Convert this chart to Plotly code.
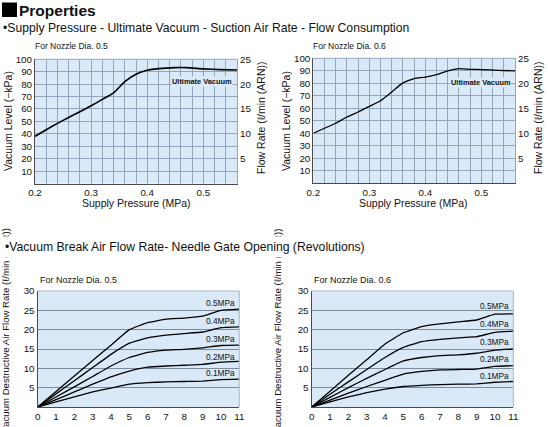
import plotly.graph_objects as go

W, H = 548, 427

# ---------------- data ----------------
pressure_05 = [0.20, 0.22, 0.24, 0.26, 0.28, 0.30, 0.32, 0.34, 0.36, 0.38, 0.40, 0.42, 0.45, 0.47, 0.50, 0.53, 0.56]
vacuum_05 = [38, 43.3, 48.4, 53.2, 57.8, 62.6, 67.7, 73, 82, 88, 91.2, 92.5, 93.3, 93.3, 92.3, 91.7, 91.4]

pressure_06 = [0.20, 0.22, 0.24, 0.26, 0.28, 0.30, 0.32, 0.34, 0.36, 0.38, 0.40, 0.42, 0.44, 0.46, 0.48, 0.50, 0.53, 0.56]
vacuum_06 = [40, 44, 48, 53, 57, 61.5, 66, 73, 80.3, 83.8, 85, 87, 90, 91.7, 91.2, 91, 90.4, 89.9]

x_ticks_top = [0.2, 0.3, 0.4, 0.5]
vac_ticks = [10, 20, 30, 40, 50, 60, 70, 80, 90, 100]
flow_ticks = [5, 10, 15, 20, 25]

gate_turns = [0, 1, 2, 3, 4, 5, 6, 7, 8, 9, 10, 11]
supply_labels = ["0.5MPa", "0.4MPa", "0.3MPa", "0.2MPa", "0.1MPa"]
break_flow_05 = [
    [0, 4.0, 8.0, 12.0, 16.0, 20.0, 21.8, 22.7, 23.0, 23.5, 25.0, 25.3],
    [0, 3.4, 6.8, 10.2, 13.6, 16.5, 17.9, 18.6, 19.0, 19.4, 20.5, 20.7],
    [0, 2.6, 5.2, 7.9, 10.6, 12.8, 14.1, 14.7, 14.9, 15.3, 15.9, 16.0],
    [0, 1.9, 3.9, 5.9, 7.8, 9.3, 10.3, 10.6, 10.8, 11.0, 11.6, 11.8],
    [0, 1.3, 2.6, 3.9, 4.9, 5.9, 6.3, 6.5, 6.6, 6.7, 7.1, 7.2],
]
break_flow_06 = [
    [0, 4.1, 8.2, 12.2, 16.3, 19.2, 20.8, 21.5, 22.0, 22.5, 24.0, 24.1],
    [0, 3.3, 6.5, 9.7, 12.8, 15.4, 16.9, 17.5, 17.9, 18.2, 19.3, 19.6],
    [0, 2.5, 5.0, 7.4, 9.7, 11.9, 12.8, 13.3, 13.5, 13.9, 14.7, 15.0],
    [0, 1.8, 3.6, 5.3, 6.9, 8.5, 9.2, 9.6, 9.7, 9.8, 10.5, 10.7],
    [0, 1.3, 2.6, 3.7, 4.6, 5.3, 5.6, 5.8, 5.9, 6.0, 6.4, 6.6],
]
label_y_05 = [26.9, 22.3, 17.6, 12.9, 8.8]
label_y_06 = [26.1, 21.5, 16.9, 12.3, 8.0]
x_ticks_bottom = gate_turns
y_ticks_bottom = [5, 10, 15, 20, 25, 30]

# ---------------- style ----------------
FONT = "Liberation Sans, Arial, Helvetica, sans-serif"
BG = "#d9e9f7"
GRID = "#93a7bc"
AXIS = "#4a4a4a"
TXT = "#111111"


def px(x):
    return x / W


def py(y):
    return 1 - y / H


fig = go.Figure()

fig.add_trace(go.Scatter(x=pressure_05, y=vacuum_05, xaxis="x", yaxis="y", mode="lines",
                         line=dict(color="black", width=1.6, shape="spline", smoothing=0.6), hoverinfo="skip"))
fig.add_trace(go.Scatter(x=pressure_06, y=vacuum_06, xaxis="x2", yaxis="y3", mode="lines",
                         line=dict(color="black", width=1.3, shape="spline", smoothing=0.6), hoverinfo="skip"))
# empty traces so the right-hand flow-rate axes are drawn
fig.add_trace(go.Scatter(x=[], y=[], xaxis="x", yaxis="y2", mode="lines", hoverinfo="skip"))
fig.add_trace(go.Scatter(x=[], y=[], xaxis="x2", yaxis="y4", mode="lines", hoverinfo="skip"))

for vals in break_flow_05:
    fig.add_trace(go.Scatter(x=gate_turns, y=vals, xaxis="x3", yaxis="y5", mode="lines",
                             line=dict(color="black", width=1.3, shape="spline", smoothing=0.3), hoverinfo="skip"))
for vals in break_flow_06:
    fig.add_trace(go.Scatter(x=gate_turns, y=vals, xaxis="x4", yaxis="y6", mode="lines",
                             line=dict(color="black", width=1.3, shape="spline", smoothing=0.3), hoverinfo="skip"))

tickfont = dict(family=FONT, size=9.8, color=TXT)


def top_x(domain, anchor):
    return dict(domain=domain, anchor=anchor, range=[0.2, 0.56], tickvals=x_ticks_top,
                ticktext=[f"{v:.1f}" for v in x_ticks_top], showgrid=True, gridcolor=GRID, gridwidth=1,
                minor=dict(tickvals=[round(0.2 + 0.02 * k, 2) for k in range(19)], showgrid=True,
                           gridcolor=GRID, gridwidth=1),
                showline=True, linecolor=AXIS, linewidth=1, ticks="", tickfont=tickfont, zeroline=False,
                fixedrange=True)


def top_y(domain, anchor):
    return dict(domain=domain, anchor=anchor, range=[0, 100], tickvals=vac_ticks, showgrid=True,
                gridcolor=GRID, gridwidth=1, showline=True, linecolor=AXIS, linewidth=1, ticks="",
                tickfont=tickfont, zeroline=False, fixedrange=True)


def top_y2(overlay, anchor):
    return dict(overlaying=overlay, anchor=anchor, side="right", range=[0, 25], tickvals=flow_ticks,
                showgrid=False, showline=True, linecolor=GRID, linewidth=1, ticks="", tickfont=tickfont,
                zeroline=False, fixedrange=True)


def bot_x(domain, anchor):
    return dict(domain=domain, anchor=anchor, range=[0, 11], tickvals=x_ticks_bottom, showgrid=False,
                showline=True, linecolor=AXIS, linewidth=1.2, ticks="", tickfont=tickfont,
                zeroline=False, fixedrange=True)


def bot_y(domain, anchor):
    return dict(domain=domain, anchor=anchor, range=[0, 30], tickvals=y_ticks_bottom, showgrid=True,
                gridcolor="#7d8c9c", gridwidth=1, showline=True, linecolor=AXIS, linewidth=1.2, ticks="",
                tickfont=tickfont, zeroline=False, fixedrange=True)


fig.update_layout(
    width=W, height=H, margin=dict(l=0, r=0, t=0, b=0, autoexpand=False), paper_bgcolor="white",
    plot_bgcolor=BG, showlegend=False,
    xaxis=top_x([px(35), px(237)], "y"),
    yaxis=top_y([py(183.5), py(59.3)], "x"),
    yaxis2=top_y2("y", "x"),
    xaxis2=top_x([px(313.3), px(515)], "y3"),
    yaxis3=top_y([py(183.2), py(58.3)], "x2"),
    yaxis4=top_y2("y3", "x2"),
    xaxis3=bot_x([px(37.7), px(239.3)], "y5"),
    yaxis5=bot_y([py(407), py(291)], "x3"),
    xaxis4=bot_x([px(311.7), px(513.3)], "y6"),
    yaxis6=bot_y([py(407), py(291)], "x4"),
)

shapes = []
for xr, yr in (("x", "y"), ("x2", "y3")):
    shapes.append(dict(type="line", xref=f"{xr} domain", yref=f"{yr} domain", x0=0, x1=1, y0=1, y1=1,
                       line=dict(color=GRID, width=1)))
for xr, yr in (("x3", "y5"), ("x4", "y6")):
    shapes.append(dict(type="line", xref=f"{xr} domain", yref=f"{yr} domain", x0=0, x1=1, y0=1, y1=1,
                       line=dict(color="#a9b7c6", width=1)))
    shapes.append(dict(type="line", xref=f"{xr} domain", yref=f"{yr} domain", x0=1, x1=1, y0=0, y1=1,
                       line=dict(color="#a9b7c6", width=1)))
shapes.append(dict(type="rect", xref="paper", yref="paper", x0=px(2), x1=px(17), y0=py(17), y1=py(2.5),
                   fillcolor="black", line=dict(width=0)))
fig.update_layout(shapes=shapes)

ann = []


def txt(x, y, s, size, xanchor="left", yanchor="middle", angle=0, bold=False, **kw):
    a = dict(x=px(x), y=py(y), xref="paper", yref="paper", text=(f"<b>{s}</b>" if bold else s),
             showarrow=False, xanchor=xanchor, yanchor=yanchor, textangle=angle,
             font=dict(family=FONT, size=size, color=TXT))
    a.update(kw)
    ann.append(a)


txt(4.5, 331, "Vacuum Destructive Air Flow Rate (ℓ/min (ANR))", 9.6, xanchor="center", angle=-90)
txt(277, 331, "Vacuum Destructive Air Flow Rate (ℓ/min (ANR))", 9.6, xanchor="center", angle=-90)
txt(17, 10, "Properties", 15.5, bold=True)
txt(1, 28.5, "•Supply Pressure - Ultimate Vacuum - Suction Air Rate - Flow Consumption", 12.2)
txt(33, 45.5, "For Nozzle Dia. 0.5", 8.5)
txt(311, 45.5, "For Nozzle Dia. 0.6", 8.5)
txt(136, 203, "Supply Pressure (MPa)", 10.5, xanchor="center")
txt(413, 203, "Supply Pressure (MPa)", 10.5, xanchor="center")
txt(8, 121, "Vacuum Level (−kPa)", 10.5, xanchor="center", angle=-90)
txt(286, 121, "Vacuum Level (−kPa)", 10.5, xanchor="center", angle=-90)
txt(261, 118, "Flow Rate (ℓ/min (ARN))", 10.5, xanchor="center", angle=-90)
txt(538, 118, "Flow Rate (ℓ/min (ARN))", 10.5, xanchor="center", angle=-90)
txt(1, 247, "•Vacuum Break Air Flow Rate- Needle Gate Opening (Revolutions)", 12.2,
    bgcolor="white", borderpad=3)
txt(38, 280, "For Nozzle Dia. 0.5", 9)
txt(312, 280, "For Nozzle Dia. 0.6", 9)

ann.append(dict(x=0.497, y=81.8, xref="x", yref="y", text="<b>Ultimate Vacuum</b>", showarrow=False,
                xanchor="center", yanchor="middle", bgcolor=BG, borderpad=0,
                font=dict(family=FONT, size=7.4, color=TXT)))
ann.append(dict(x=0.499, y=80.6, xref="x2", yref="y3", text="<b>Ultimate Vacuum</b>", showarrow=False,
                xanchor="center", yanchor="middle", bgcolor=BG, borderpad=0,
                font=dict(family=FONT, size=7.4, color=TXT)))
for lab, yv in zip(supply_labels, label_y_05):
    ann.append(dict(x=10.9, y=yv, xref="x3", yref="y5", text=lab, showarrow=False, xanchor="right",
                    yanchor="middle", font=dict(family=FONT, size=8.3, color=TXT)))
for lab, yv in zip(supply_labels, label_y_06):
    ann.append(dict(x=10.9, y=yv, xref="x4", yref="y6", text=lab, showarrow=False, xanchor="right",
                    yanchor="middle", font=dict(family=FONT, size=8.3, color=TXT)))
fig.update_layout(annotations=ann)

fig.write_html("out.html", config={"displayModeBar": False, "staticPlot": True},
               post_script="document.body.style.margin='0';document.body.style.overflow='hidden';")
